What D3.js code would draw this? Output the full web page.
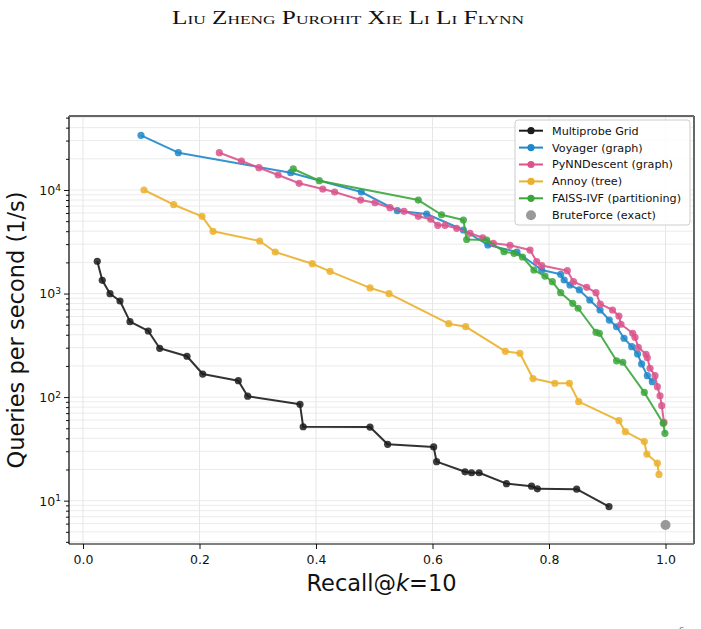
<!DOCTYPE html>
<html><head><meta charset="utf-8">
<script src="https://cdn.jsdelivr.net/npm/d3@7"></script>
<style>body{margin:0;background:#fff}</style>
</head><body><svg id="c" width="701" height="629"></svg>
<script>
const headerText = "Liu Zheng Purohit Xie Li Li Flynn";
const xTicks = [0.0, 0.2, 0.4, 0.6, 0.8, 1.0];
const yMajor = [10, 100, 1000, 10000];

const seriesNames = ["Multiprobe Grid","Voyager (graph)","PyNNDescent (graph)","Annoy (tree)","FAISS-IVF (partitioning)","BruteForce (exact)"];
const seriesColors = ["#1c1c1c","#1f88c9","#d9548c","#ebb02d","#3aa63a","#999999"];

const gridRecall = [0.0245,0.0331,0.0464,0.0635,0.0807,0.112,0.1317,0.1785,0.2055,0.2666,0.2827,0.3725,0.378,0.4927,0.523,0.602,0.607,0.6558,0.667,0.680,0.727,0.770,0.780,0.8475,0.903];
const gridQps = [2050,1343,997,847,535,435,296,248,167,144,102,85.2,51.7,51.4,35.0,33.0,23.8,19.0,18.6,18.6,14.6,13.8,13.0,12.9,8.74];

const voyRecall = [0.0996,0.1636,0.3566,0.4778,0.5396,0.590,0.653,0.695,0.745,0.7875,0.820,0.826,0.836,0.852,0.870,0.8876,0.9035,0.916,0.9288,0.942,0.952,0.959,0.9688,0.9773];
const voyQps = [33750,22920,14690,9565,6310,5865,4110,2942,2520,1688,1535,1352,1210,1083,866,694,555,478,370,307,261,209,161,141];

const pyRecall = [0.234,0.272,0.302,0.335,0.371,0.4116,0.432,0.4767,0.5013,0.527,0.551,0.5756,0.597,0.609,0.6215,0.6415,0.6644,0.6862,0.7044,0.733,0.7674,0.7789,0.7875,0.8314,0.842,0.8647,0.8807,0.888,0.909,0.920,0.9236,0.9437,0.9476,0.9533,0.9665,0.9688,0.9734,0.982,0.986,0.9906,0.9935,0.9974];
const pyQps = [22920,19060,16420,13960,11610,10220,9565,8000,7530,6745,6225,5570,5215,4560,4560,4265,3818,3460,3054,2923,2630,2040,1866,1663,1301,1149,1019,793,694,607,505,413,378,303,259,240,190,161,126,103,82.6,56.9];

const annoyRecall = [0.1047,0.1557,0.2043,0.2232,0.3033,0.330,0.3936,0.424,0.4927,0.5253,0.6278,0.657,0.725,0.750,0.7725,0.810,0.835,0.851,0.920,0.931,0.9636,0.968,0.986,0.9888];
const annoyQps = [10000,7210,5570,3990,3218,2518,1941,1640,1133,998,512,479,277,265,151,136,136,90.3,59.2,46.4,37.2,28.2,23.0,17.9];

const faissRecall = [0.361,0.4057,0.5756,0.6155,0.653,0.6587,0.693,0.7227,0.740,0.7545,0.774,0.793,0.8057,0.820,0.8407,0.850,0.8807,0.8864,0.916,0.9266,0.9636,0.996,0.999];
const faissQps = [15960,12300,8000,5770,5130,3325,3290,2537,2447,2255,1688,1476,1301,1019,805,721,423,413,224,217,111,55.9,44.7];

const bruteRecall = [1.0];
const bruteQps = [5.82];

const svg = d3.select("#c");
const L = 69, R = 694, T = 116, B = 544;
const x = d3.scaleLinear().domain([-0.02403, 1.0489]).range([L, R]);
const y = d3.scaleLog().domain([3.814, 51830]).range([B, T]);

// header
svg.append("text").attr("x", 348).attr("y", 24).attr("text-anchor","middle")
  .attr("font-family","'Liberation Serif','DejaVu Serif',serif").attr("font-size",19)
  .style("font-variant","small-caps").attr("textLength",352).attr("lengthAdjust","spacingAndGlyphs")
  .attr("fill","#111").text(headerText);

// gridlines
const minorVals = [];
for (let e = 0; e <= 4; e++) for (let m = 1; m <= 9; m++) {
  const v = m * Math.pow(10, e);
  if (v >= 3.814 && v <= 51830) minorVals.push(v);
}
const g = svg.append("g");
g.selectAll("line.hg").data(minorVals).join("line")
  .attr("x1", L).attr("x2", R).attr("y1", d => y(d)).attr("y2", d => y(d))
  .attr("stroke", "#ebebeb").attr("stroke-width", 1);
g.selectAll("line.vg").data(xTicks).join("line")
  .attr("x1", d => x(d)).attr("x2", d => x(d)).attr("y1", T).attr("y2", B)
  .attr("stroke", "#e6e6e6").attr("stroke-width", 1);

// series
const series = [
  {r: gridRecall, q: gridQps},
  {r: voyRecall, q: voyQps},
  {r: pyRecall, q: pyQps},
  {r: annoyRecall, q: annoyQps},
  {r: faissRecall, q: faissQps}
];
const line = d3.line().x(d => x(d[0])).y(d => y(d[1]));
series.forEach((s, i) => {
  const pts = s.r.map((v, k) => [v, s.q[k]]);
  const sg = svg.append("g");
  sg.append("path").datum(pts).attr("d", line).attr("fill","none")
    .attr("stroke", seriesColors[i]).attr("stroke-width", 2).attr("stroke-opacity", 0.9)
    .attr("stroke-linejoin","round");
  sg.selectAll("circle").data(pts).join("circle")
    .attr("cx", d => x(d[0])).attr("cy", d => y(d[1])).attr("r", 3.6)
    .attr("fill", seriesColors[i]).attr("fill-opacity", 0.85);
});
svg.selectAll("circle.bf").data(bruteRecall.map((v,k)=>[v,bruteQps[k]])).join("circle")
  .attr("cx", d => x(d[0])).attr("cy", d => y(d[1])).attr("r", 5)
  .attr("fill", seriesColors[5]);

// axes
const xAxis = d3.axisBottom(x).tickValues(xTicks).tickFormat(d3.format(".1f")).tickSize(5).tickSizeOuter(0);
const xg = svg.append("g").attr("transform", `translate(0,${B})`).call(xAxis);
xg.select(".domain").remove();
xg.selectAll("text").attr("font-family","'DejaVu Sans',sans-serif").attr("font-size",12.5).attr("fill","#111").attr("dy","0.95em");
xg.selectAll("line").attr("stroke","#111");

const yAxisMinor = d3.axisLeft(y).tickValues(minorVals.filter(v => !yMajor.includes(v))).tickFormat("").tickSize(3).tickSizeOuter(0);
const ygm = svg.append("g").attr("transform", `translate(${L},0)`).call(yAxisMinor);
ygm.select(".domain").remove();
ygm.selectAll("line").attr("stroke","#111");
const yAxis = d3.axisLeft(y).tickValues(yMajor).tickFormat("").tickSize(5).tickSizeOuter(0);
const yg = svg.append("g").attr("transform", `translate(${L},0)`).call(yAxis);
yg.select(".domain").remove();
yg.selectAll("line").attr("stroke","#111");
yg.selectAll(".tick").each(function(d) {
  const t = d3.select(this).append("text").attr("x", -8).attr("dy", "0.35em")
    .attr("text-anchor","end").attr("fill","#111")
    .attr("font-family","'DejaVu Sans',sans-serif").attr("font-size",12.5);
  t.append("tspan").text("10");
  t.append("tspan").attr("dy","-0.45em").attr("font-size",9).text(Math.round(Math.log10(d)));
});

// spines
svg.append("line").attr("x1",L).attr("x2",L).attr("y1",T).attr("y2",B).attr("stroke","#000").attr("stroke-width",1.2);
svg.append("line").attr("x1",L).attr("x2",R).attr("y1",B).attr("y2",B).attr("stroke","#000").attr("stroke-width",1.2);
svg.append("line").attr("x1",L).attr("x2",R).attr("y1",T).attr("y2",T).attr("stroke","#666").attr("stroke-width",2);
svg.append("line").attr("x1",R).attr("x2",R).attr("y1",T).attr("y2",B).attr("stroke","#666").attr("stroke-width",2);

// axis labels
const xl = svg.append("text").attr("x", (L+R)/2).attr("y", 591).attr("text-anchor","middle")
  .attr("font-family","'DejaVu Sans',sans-serif").attr("font-size",22.5).attr("fill","#111");
xl.append("tspan").text("Recall@");
xl.append("tspan").attr("font-style","italic").text("k");
xl.append("tspan").text("=10");
svg.append("text").attr("transform", `translate(24,${(T+B)/2}) rotate(-90)`).attr("text-anchor","middle")
  .attr("font-family","'DejaVu Sans',sans-serif").attr("font-size",22.5).attr("fill","#111")
  .text("Queries per second (1/s)");

// legend
const lg = svg.append("g");
lg.append("rect").attr("x",515).attr("y",120).attr("width",175).attr("height",105).attr("rx",3)
  .attr("fill","#fff").attr("fill-opacity",0.85).attr("stroke","#cccccc").attr("stroke-width",1);
seriesNames.forEach((n, i) => {
  const yy = 130.7 + i * 16.9;
  if (i < 5) {
    lg.append("line").attr("x1",519).attr("x2",543).attr("y1",yy).attr("y2",yy)
      .attr("stroke",seriesColors[i]).attr("stroke-width",2);
    lg.append("circle").attr("cx",531).attr("cy",yy).attr("r",3.6).attr("fill",seriesColors[i]);
  } else {
    lg.append("circle").attr("cx",531).attr("cy",yy).attr("r",5).attr("fill",seriesColors[i]);
  }
  lg.append("text").attr("x",552).attr("y",yy).attr("dy","0.35em")
    .attr("font-family","'DejaVu Sans',sans-serif").attr("font-size",11.2).attr("fill","#111").text(n);
});

// page number (cropped at the page edge, as in the reference)
svg.append("text").attr("x",679).attr("y",634).attr("font-family","'Liberation Serif',serif")
  .attr("font-size",10).attr("fill","#333").text("6");
</script>
</body></html>
